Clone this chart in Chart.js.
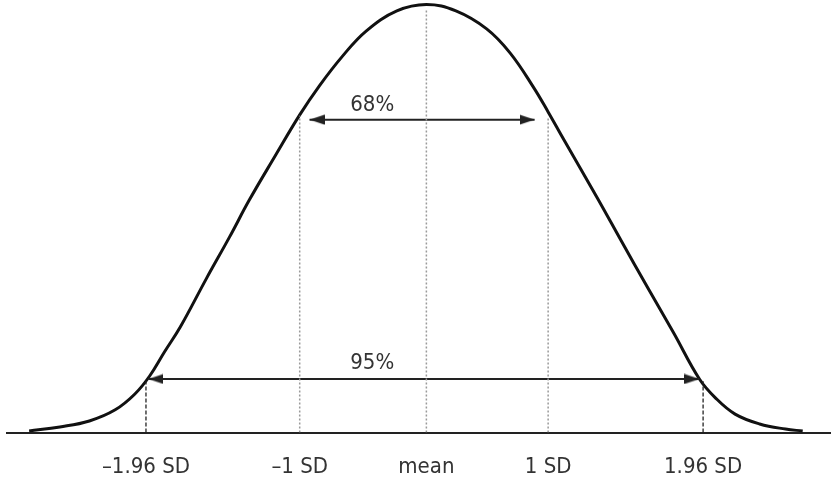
<!DOCTYPE html>
<html>
<head>
<meta charset="utf-8">
<script src="https://cdn.jsdelivr.net/npm/chart.js@4"></script>
<style>
  body { margin: 0; background: #fff; }
</style>
</head>
<body>
<canvas id="bellChart" width="831" height="484"></canvas>
<script>
// curve (x in SD-ish units, y = height in % of peak)
const curveX = [-3.23, -2.98, -2.74, -2.53, -2.37, -2.25, -2.13, -2.00, -1.79, -1.60, -1.44, -1.23, -1.03, -0.87, -0.68, -0.49, -0.24, 0,
    0.24, 0.49, 0.68, 0.87, 0.99, 1.11, 1.39, 1.59, 1.80, 2.01, 2.22, 2.35, 2.51, 2.71, 2.92, 3.06];
const curveY = [0.35, 1.3, 2.7, 5.3, 9.0, 13.2, 18.8, 24.7, 35.9, 45.7, 54.3, 64.6, 74.2, 81.0, 88.0, 93.8, 98.5, 100,
    98.5, 94.3, 88.7, 80.7, 74.9, 68.8, 54.8, 44.5, 33.8, 23.3, 12.5, 8.1, 4.3, 2.0, 0.8, 0.35];

const tickValues = [-2.28, -1.03, 0, 0.99, 2.25];
const tickLabels = ["\u20131.96 SD", "\u20131 SD", "mean", "1 SD", "1.96 SD"];
const guideTops = [12, 74, 99, 73.7, 12];

const arrowNames = ["68%", "95%"];
const arrowFrom = [-0.95, -2.26];
const arrowTo = [0.88, 2.22];
const arrowLevel = [73.1, 12.5];
const labelX = [-0.44, -0.44];
const labelY = [76.5, 16.2];

const FONT = '"Liberation Sans Narrow", "DejaVu Sans Condensed", "Liberation Sans", sans-serif';

function arrowHead(dir) {
    const c = document.createElement("canvas");
    c.width = 30;
    c.height = 11;
    const g = c.getContext("2d");
    g.fillStyle = "#222";
    g.beginPath();
    if (dir > 0) {
        g.moveTo(15, 5.5); g.lineTo(0, 0.5); g.lineTo(0, 10.5);
    } else {
        g.moveTo(15, 5.5); g.lineTo(30, 0.5); g.lineTo(30, 10.5);
    }
    g.closePath();
    g.fill();
    return c;
}
const headLeft = arrowHead(-1);
const headRight = arrowHead(1);

const datasets = [];

// guide lines up from the axis
tickValues.forEach((v, i) => {
    const outer = i === 0 || i === tickValues.length - 1;
    datasets.push({
        data: [{ x: v, y: 0 }, { x: v, y: guideTops[i] }],
        borderColor: outer ? "#222" : "#9a9a9a",
        borderWidth: outer ? 1.3 : 1.5,
        borderDash: outer ? [4, 2] : [2, 2],
        pointRadius: 0,
    });
});

// double arrows
arrowNames.forEach((n, i) => {
    datasets.push({
        data: [{ x: arrowFrom[i], y: arrowLevel[i] }, { x: arrowTo[i], y: arrowLevel[i] }],
        borderColor: "#222",
        borderWidth: 2,
        pointRadius: 1,
        pointStyle: [headLeft, headRight],
    });
});

datasets.push({
    data: curveX.map((x, i) => ({ x: x, y: curveY[i] })),
    borderColor: "#111",
    borderWidth: 3,
    pointRadius: 0,
    tension: 0.4,
});

const textPlugin = {
    id: "arrowText",
    afterDatasetsDraw(chart) {
        const { ctx, scales } = chart;
        ctx.save();
        ctx.fillStyle = "#333";
        ctx.font = "22px " + FONT;
        ctx.textAlign = "center";
        ctx.textBaseline = "middle";
        arrowNames.forEach((n, i) => {
            ctx.fillText(n, scales.x.getPixelForValue(labelX[i]), scales.y.getPixelForValue(labelY[i]));
        });
        ctx.restore();
    },
};

const ctx = document.getElementById("bellChart").getContext("2d");
const bellChart = new Chart(ctx, {
    type: "line",
    data: { datasets: datasets },
    options: {
        responsive: false,
        animation: false,
        layout: { autoPadding: false, padding: { left: 7, right: 0, top: 0, bottom: 0 } },
        scales: {
            x: {
                type: "linear",
                min: -3.41,
                max: 3.29,
                afterBuildTicks(scale) {
                    scale.ticks = tickValues.map((v) => ({ value: v }));
                },
                afterFit(scale) {
                    scale.height = 51.5;
                    scale.paddingLeft = 0;
                    scale.paddingRight = 0;
                },
                grid: { display: false, drawTicks: false },
                border: { color: "#222", width: 2 },
                ticks: {
                    autoSkip: false,
                    maxRotation: 0,
                    padding: 22,
                    color: "#333",
                    font: { family: FONT, size: 22 },
                    callback: (v) => tickLabels[tickValues.indexOf(v)],
                },
            },
            y: {
                display: false,
                min: 0,
                max: 101.05,
            },
        },
        plugins: {
            legend: { display: false },
            tooltip: { enabled: false },
        },
    },
    plugins: [textPlugin],
});
</script>
</body>
</html>
